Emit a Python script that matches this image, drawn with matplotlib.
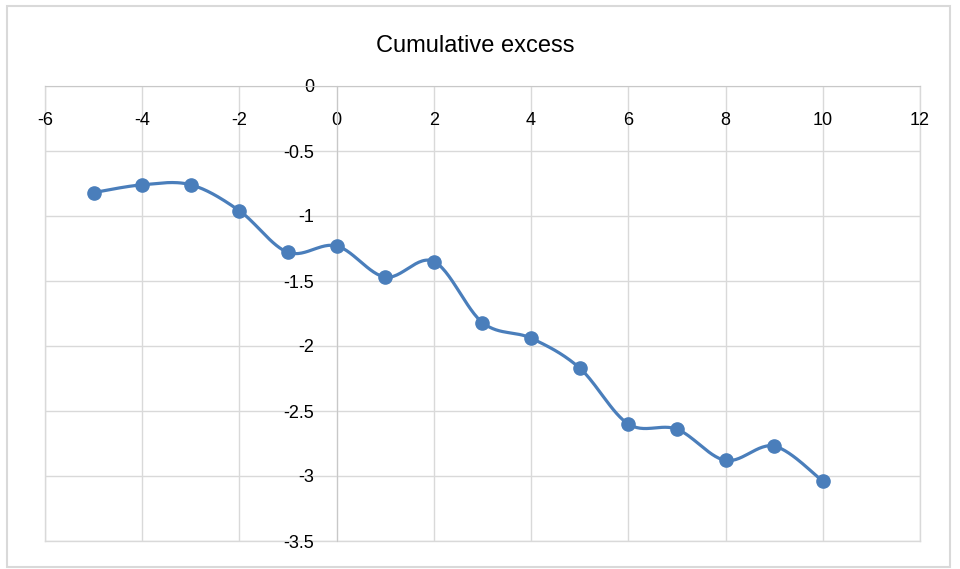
import matplotlib.pyplot as plt
import matplotlib.patches as patches
import numpy as np

plt.rcParams['font.family'] = ['Liberation Sans', 'DejaVu Sans']

# data
x_vals = [-5, -4, -3, -2, -1, 0, 1, 2, 3, 4, 5, 6, 7, 8, 9, 10]
y_vals = [-0.82, -0.76, -0.76, -0.96, -1.28, -1.23, -1.47, -1.35,
          -1.82, -1.94, -2.17, -2.60, -2.64, -2.88, -2.77, -3.04]
x_ticks = [-6, -4, -2, 0, 2, 4, 6, 8, 10, 12]
y_ticks = [0, -0.5, -1, -1.5, -2, -2.5, -3, -3.5]
y_labels = ['0', '-0.5', '-1', '-1.5', '-2', '-2.5', '-3', '-3.5']
title = 'Cumulative excess'

line_color = '#4a7ebb'
grid_color = '#d9d9d9'


def smooth(xs, ys, n=30):
    # Catmull-Rom style smoothing, like the spreadsheet "smoothed line"
    xs = np.asarray(xs, float)
    ys = np.asarray(ys, float)
    px = np.concatenate([[xs[0]], xs, [xs[-1]]])
    py = np.concatenate([[ys[0]], ys, [ys[-1]]])
    out_x, out_y = [], []
    t = np.linspace(0, 1, n)
    for i in range(1, len(px) - 2):
        p0, p1, p2, p3 = [np.array([px[j], py[j]]) for j in (i - 1, i, i + 1, i + 2)]
        c1 = p1 + (p2 - p0) / 6
        c2 = p2 - (p3 - p1) / 6
        seg = ((1 - t) ** 3)[:, None] * p1 + (3 * (1 - t) ** 2 * t)[:, None] * c1 \
            + (3 * (1 - t) * t ** 2)[:, None] * c2 + (t ** 3)[:, None] * p2
        out_x.extend(seg[:, 0])
        out_y.extend(seg[:, 1])
    return out_x, out_y


fig = plt.figure(figsize=(9.6, 5.69), dpi=100)
W, H = 960, 569
fig.patches.append(patches.Rectangle((7 / W, 1 - 567 / H), 943 / W, 561 / H,
                                     transform=fig.transFigure, fill=False,
                                     edgecolor=grid_color, linewidth=1.5))

ax = fig.add_axes([45 / W, 1 - 541 / H, (920 - 45) / W, (541 - 86) / H])
ax.set_xlim(-6, 12)
ax.set_ylim(-3.5, 0)
ax.set_xticks(x_ticks)
ax.set_yticks(y_ticks)
ax.set_xticklabels([str(v) for v in x_ticks])
ax.set_yticklabels(y_labels)
ax.grid(True, color=grid_color, linewidth=1.0)
ax.set_axisbelow(True)

for s in ('top', 'right'):
    ax.spines[s].set_visible(False)
ax.spines['bottom'].set_position(('data', 0))
ax.spines['left'].set_position(('data', 0))
ax.spines['bottom'].set_color('#c8c8c8')
ax.spines['left'].set_color('#c8c8c8')
ax.tick_params(axis='x', length=0, pad=19, labelsize=13, labelcolor='black')
ax.tick_params(axis='y', length=0, pad=16, labelsize=13, labelcolor='black')

# frame lines of the plot area (gridline-coloured)
ax.plot([-6, -6], [-3.5, 0], color=grid_color, lw=1.0, zorder=0, clip_on=False)
ax.plot([12, 12], [-3.5, 0], color=grid_color, lw=1.0, zorder=0, clip_on=False)
ax.plot([-6, 12], [-3.5, -3.5], color=grid_color, lw=1.0, zorder=0, clip_on=False)

sx, sy = smooth(x_vals, y_vals)
ax.plot(sx, sy, color=line_color, linewidth=2.3, zorder=3, solid_capstyle='round')
ax.plot(x_vals, y_vals, 'o', color=line_color, markersize=9.5, zorder=4)

fig.text(475 / W, 1 - 46 / H, title, ha='center', va='center', fontsize=17)

fig.savefig('out.png', dpi=100)
